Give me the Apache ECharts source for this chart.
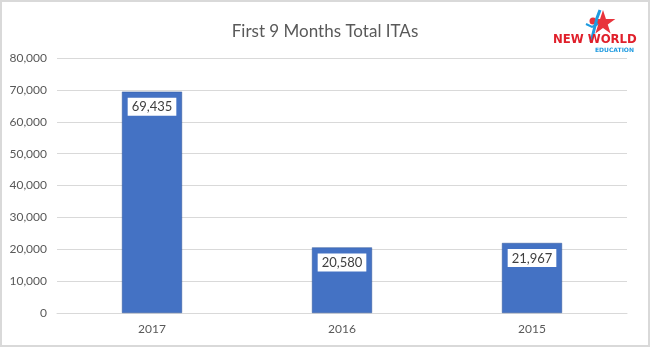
<!DOCTYPE html>
<html>
<head>
<meta charset="utf-8">
<script src="https://cdn.jsdelivr.net/npm/echarts@6/dist/echarts.min.js"></script>
<style>
  html, body { margin: 0; padding: 0; background: #fff; }
  #chart { width: 650px; height: 347px; box-sizing: border-box; border: 2px solid #d9d9d9; }
</style>
</head>
<body>
<div id="chart"></div>
<script>
// First nine months of each year: total Invitations To Apply
const years = ['2017', '2016', '2015'];
const totalITAs = [69435, 20580, 21967];
const yTicks = [0, 10000, 20000, 30000, 40000, 50000, 60000, 70000, 80000];

const fmt = v => v.toLocaleString('en-US');
const font = 'Lato, "Open Sans", sans-serif';

// five-pointed star outline around the origin
function starPoints(R, r) {
  const pts = [];
  for (let i = 0; i < 10; i++) {
    const a = -Math.PI / 2 + i * Math.PI / 5;
    const rr = i % 2 ? r : R;
    pts.push([rr * Math.cos(a), rr * Math.sin(a)]);
  }
  return pts;
}

const chart = echarts.init(document.getElementById('chart'));
chart.setOption({
  animation: false,
  textStyle: { fontFamily: font },
  title: {
    text: 'First 9 Months Total ITAs',
    left: 'center',
    top: 16,
    textStyle: { fontFamily: font, fontSize: 17, fontWeight: 'normal', color: '#595959' }
  },
  grid: { left: 55, right: 21, top: 56, bottom: 32 },
  xAxis: {
    type: 'category',
    data: years,
    axisLine: { lineStyle: { color: '#d9d9d9' } },
    axisTick: { show: false },
    axisLabel: { color: '#595959', fontSize: 12, margin: 10, fontFamily: font }
  },
  yAxis: {
    type: 'value',
    min: yTicks[0],
    max: yTicks[yTicks.length - 1],
    interval: yTicks[1] - yTicks[0],
    axisLine: { show: false },
    axisTick: { show: false },
    splitLine: { lineStyle: { color: '#d9d9d9' } },
    axisLabel: { color: '#595959', fontSize: 12, margin: 10, fontFamily: font, formatter: v => fmt(v) }
  },
  series: [{
    type: 'bar',
    data: totalITAs,
    barWidth: '31.6%',
    itemStyle: { color: '#4472c4', borderColor: '#2f5597', borderWidth: 0.5 },
    label: {
      show: true,
      position: 'insideTop',
      distance: 6,
      formatter: p => fmt(p.value),
      backgroundColor: '#fff',
      padding: [3, 4, 2, 4],
      color: '#404040',
      fontSize: 13,
      fontFamily: font
    }
  }],
  graphic: [
    // brand mark: red star, blue figure, name below
    {
      type: 'polygon', x: 601, y: 21,
      shape: { points: starPoints(13, 5) },
      style: { fill: '#e8343c' }
    },
    {
      type: 'circle', x: 591, y: 19,
      shape: { r: 3.5 }, style: { fill: '#e8343c' }
    },
    {
      type: 'polyline', x: 586, y: 8,
      shape: { points: [[12, 0], [9, 8], [7, 16], [5, 24], [3, 32]] },
      style: { stroke: '#1f9be0', lineWidth: 3, fill: null }
    },
    {
      type: 'polyline', x: 584, y: 22,
      shape: { points: [[0, 0], [6, 3], [12, 0]] },
      style: { stroke: '#1f9be0', lineWidth: 2, fill: null }
    },
    {
      type: 'text', x: 551, y: 31,
      style: { text: 'NEW WORLD', fill: '#e0202b', font: 'bold 13px "DejaVu Sans Condensed", sans-serif' }
    },
    {
      type: 'text', x: 593, y: 45,
      style: { text: 'EDUCATION', fill: '#1f9be0', font: 'bold 6px "DejaVu Sans", sans-serif' }
    }
  ]
});
</script>
</body>
</html>
